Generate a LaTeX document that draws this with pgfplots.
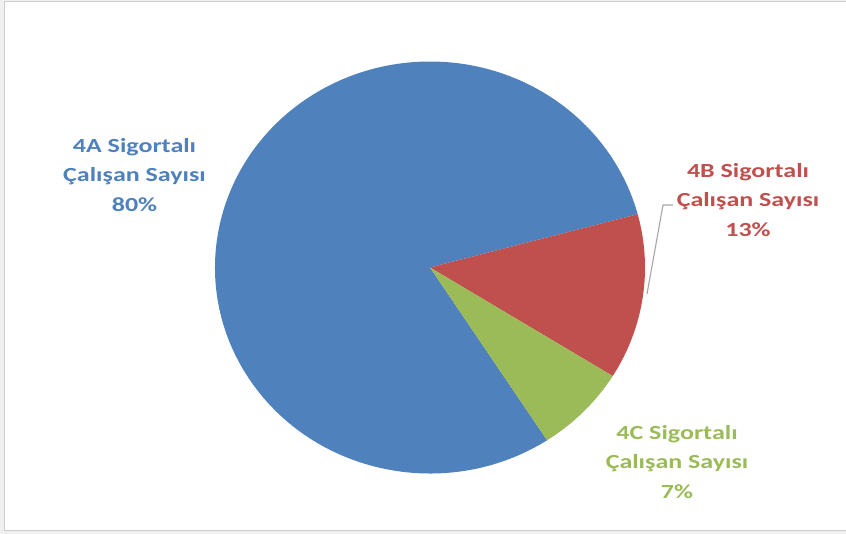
\documentclass[border=0pt]{standalone}
\usepackage{pgfplots}
\pgfplotsset{compat=1.18}
\usepackage{pgfplotstable}
\usepackage{fontspec}
\setmainfont{Carlito}
\definecolor{cA}{HTML}{4F81BD}
\definecolor{cB}{HTML}{C0504D}
\definecolor{cC}{HTML}{9BBB59}
\pgfplotstableread{
name share
4A 80
4B 13
4C 7
}\piedata
\begin{document}
\begin{tikzpicture}
\pgfplotstablegetelem{0}{share}\of\piedata \let\sA\pgfplotsretval
\pgfplotstablegetelem{1}{share}\of\piedata \let\sB\pgfplotsretval
\pgfplotstablegetelem{2}{share}\of\piedata \let\sC\pgfplotsretval
\pgfmathsetmacro\angStart{15}
\pgfmathsetmacro\angB{\angStart-\sB*3.6}
\pgfmathsetmacro\angC{\angB-\sC*3.6}
\pgfmathsetmacro\angA{\angC-\sA*3.6}
\def\rx{215bp}
\def\ry{206bp}
\tikzset{lbl/.style={align=center, xscale=1.3, font=\fontsize{20bp}{29.5bp}\bfseries\selectfont}}
\begin{axis}[scale only axis, width=846bp, height=534bp,
  xmin=0, xmax=846, ymin=0, ymax=534, hide axis, clip=true]
  \fill[gray!12] (axis cs:0,0) rectangle (axis cs:846,534);
  \filldraw[fill=white, draw=gray!40, line width=1.2bp] (axis cs:4.5,3.5) rectangle (axis cs:852,532.5);
  \fill[cA] (axis cs:430,266.5) -- ++({\rx*cos(\angC)},{\ry*sin(\angC)}) arc[start angle=\angC, end angle=\angA, x radius=\rx, y radius=\ry] -- cycle;
  \fill[cB] (axis cs:430,266.5) -- ++({\rx*cos(\angStart)},{\ry*sin(\angStart)}) arc[start angle=\angStart, end angle=\angB, x radius=\rx, y radius=\ry] -- cycle;
  \fill[cC] (axis cs:430,266.5) -- ++({\rx*cos(\angB)},{\ry*sin(\angB)}) arc[start angle=\angB, end angle=\angC, x radius=\rx, y radius=\ry] -- cycle;
  \draw[gray!70, line width=1.1bp] (axis cs:673,329) -- (axis cs:663,329) -- (axis cs:647,240);
  \node[lbl, text=cA] at (axis cs:134.5,359) {4A Sigortalı\\Çalışan Sayısı\\80\%};
  \node[lbl, text=cB] at (axis cs:748,334) {4B Sigortalı\\Çalışan Sayısı\\13\%};
  \node[lbl, text=cC] at (axis cs:677,72) {4C Sigortalı\\Çalışan Sayısı\\7\%};
\end{axis}
\end{tikzpicture}
\end{document}
